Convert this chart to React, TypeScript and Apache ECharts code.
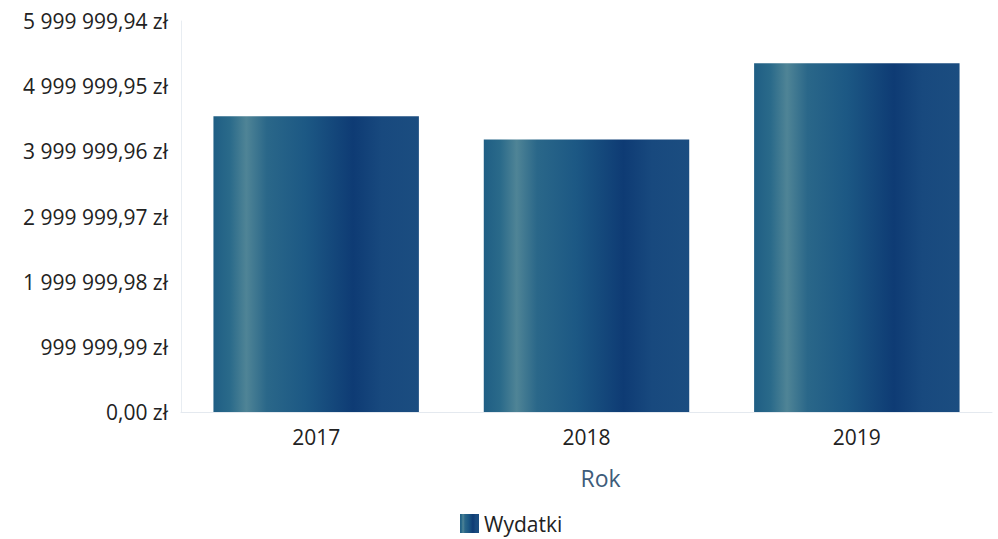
import React, { useEffect, useRef } from "react";
import * as echarts from "echarts";

const categories = ["2017", "2018", "2019"];
const wydatki = [4540000, 4180000, 5350000];
const yInterval = 999999.99;
const yMax = 5999999.94;
const seriesName = "Wydatki";
const xAxisName = "Rok";

function formatPLN(v: number): string {
  const fixed = Math.abs(v).toFixed(2);
  const [intPart, dec] = fixed.split(".");
  const withSpaces = intPart.replace(/\B(?=(\d{3})+(?!\d))/g, " ");
  return (v < 0 ? "-" : "") + withSpaces + "," + dec + " zł";
}

export default function App() {
  const ref = useRef<HTMLDivElement>(null);
  useEffect(() => {
    if (!ref.current) return;
    const chart = echarts.init(ref.current, null, { renderer: "svg" });
    const barGradient = new echarts.graphic.LinearGradient(0, 0, 1, 0, [
      { offset: 0, color: "#1f5e84" },
      { offset: 0.08, color: "#2a6a8a" },
      { offset: 0.16, color: "#4f8496" },
      { offset: 0.26, color: "#2a6789" },
      { offset: 0.45, color: "#1c5884" },
      { offset: 0.68, color: "#0e3b74" },
      { offset: 0.82, color: "#18497e" },
      { offset: 1, color: "#1b4d80" },
    ]);
    chart.setOption({
      animation: false,
      textStyle: { fontFamily: "Open Sans" },
      grid: { left: 181, right: 6, top: 21, bottom: 127, containLabel: false },
      legend: {
        bottom: 0,
        left: 455,
        icon: "rect",
        itemWidth: 19,
        itemHeight: 19,
        itemGap: 6,
        textStyle: { fontSize: 21, color: "#222", fontFamily: "Open Sans" },
        data: [seriesName],
      },
      xAxis: {
        type: "category",
        data: categories,
        name: xAxisName,
        nameLocation: "middle",
        nameGap: 54,
        nameTextStyle: {
          fontSize: 23,
          color: "#3e5c7a",
          fontFamily: "Open Sans",
          padding: [0, 0, 0, 28],
        },
        axisLine: { show: true, lineStyle: { color: "#e4e9ef" } },
        axisTick: { show: false },
        axisLabel: { fontSize: 21, color: "#222", margin: 14, fontFamily: "Open Sans" },
      },
      yAxis: {
        type: "value",
        min: 0,
        max: yMax,
        interval: yInterval,
        axisLine: { show: true, lineStyle: { color: "#e8edf2" } },
        axisTick: { show: false },
        splitLine: { show: false },
        axisLabel: {
          fontSize: 21,
          color: "#222",
          margin: 13,
          fontFamily: "Open Sans",
          formatter: (v: number) => formatPLN(v),
        },
      },
      series: [
        {
          name: seriesName,
          type: "bar",
          data: wydatki,
          barWidth: "76%",
          itemStyle: { color: barGradient },
        },
      ],
    });
    return () => chart.dispose();
  }, []);
  return <div ref={ref} style={{ width: 998, height: 539, position: "absolute", left: 0, top: 0 }} />;
}
